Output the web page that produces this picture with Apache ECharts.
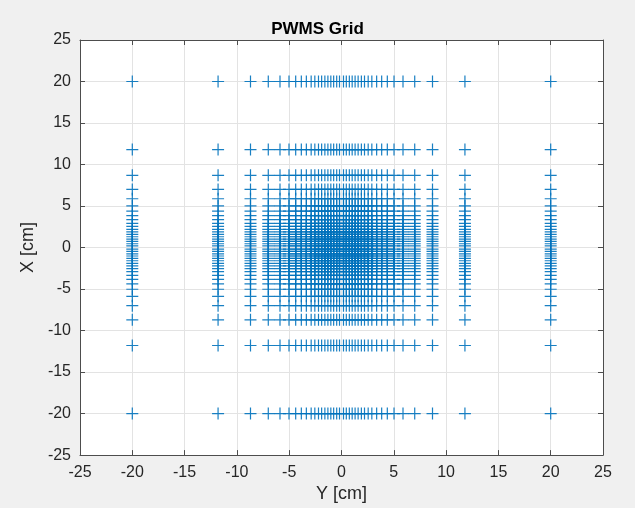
<!DOCTYPE html>
<html>
<head>
<meta charset="utf-8">
<script src="https://cdn.jsdelivr.net/npm/echarts@6/dist/echarts.min.js"></script>
<style>
  html, body { margin: 0; padding: 0; background: #f0f0f0; }
  #chart { width: 635px; height: 508px; }
</style>
</head>
<body>
<div id="chart"></div>
<script>
// grid positions [cm] (same set on both axes)
var gridY = [-20, -11.8, -8.7, -7.0, -5.88, -5.02, -4.38, -3.84, -3.36, -2.9, -2.55, -2.2, -1.9, -1.59, -1.3, -1.02, -0.75, -0.46, -0.19,
             0.19, 0.46, 0.75, 1.02, 1.3, 1.59, 1.9, 2.2, 2.55, 2.9, 3.36, 3.84, 4.38, 5.02, 5.88, 7.0, 8.7, 11.8, 20];
var gridX = [-20, -11.8, -8.7, -7.0, -5.88, -5.02, -4.38, -3.84, -3.36, -2.9, -2.55, -2.2, -1.9, -1.59, -1.3, -1.02, -0.75, -0.46, -0.19,
             0.19, 0.46, 0.75, 1.02, 1.3, 1.59, 1.9, 2.2, 2.55, 2.9, 3.36, 3.84, 4.38, 5.02, 5.88, 7.0, 8.7, 11.8, 20];
var axisMin = -25, axisMax = 25, axisStep = 5;

var points = [];
for (var i = 0; i < gridY.length; i++) {
  for (var j = 0; j < gridX.length; j++) {
    points.push([gridY[i], gridX[j]]);
  }
}

var chart = echarts.init(document.getElementById('chart'));
var plusPath = 'path://M4.5,0h1v4.5h4.5v1h-4.5v4.5h-1v-4.5h-4.5v-1h4.5z';
var lineCol = '#4d4d4d';
var textCol = '#262626';

function axisBase(pos, showLabels) {
  return {
    type: 'value',
    position: pos,
    min: axisMin, max: axisMax, interval: axisStep,
    axisLine: { show: true, onZero: false, lineStyle: { color: lineCol, width: 1 } },
    axisTick: { show: true, inside: true, length: 5, lineStyle: { color: lineCol } },
    axisLabel: { show: showLabels, color: textCol, fontSize: 16, fontFamily: 'Liberation Sans', margin: 9 },
    splitLine: { show: showLabels, lineStyle: { color: '#e3e3e3', width: 1 } }
  };
}

var xBottom = axisBase('bottom', true);
xBottom.name = 'Y [cm]';
xBottom.nameLocation = 'middle';
xBottom.nameGap = 28;
xBottom.nameTextStyle = { color: textCol, fontSize: 18, fontFamily: 'Liberation Sans' };
var xTop = axisBase('top', false);

var yLeft = axisBase('left', true);
yLeft.name = 'X [cm]';
yLeft.nameLocation = 'middle';
yLeft.nameGap = 35;
yLeft.nameTextStyle = { color: textCol, fontSize: 18, fontFamily: 'Liberation Sans' };
var yRight = axisBase('right', false);

chart.setOption({
  backgroundColor: '#f0f0f0',
  animation: false,
  title: {
    text: 'PWMS Grid',
    left: 'center',
    top: 16,
    textStyle: { color: '#000', fontSize: 17, fontWeight: 'bold', fontFamily: 'Liberation Sans' }
  },
  grid: {
    left: 80, right: 32, top: 40, bottom: 49,
    show: true, backgroundColor: '#ffffff', borderWidth: 0
  },
  xAxis: [xBottom, xTop],
  yAxis: [yLeft, yRight],
  series: [{
    type: 'scatter',
    xAxisIndex: 0,
    yAxisIndex: 0,
    data: points,
    symbol: plusPath,
    symbolSize: 12,
    itemStyle: { color: '#0072BD', opacity: 0.9 },
    silent: true
  }]
});
</script>
</body>
</html>
